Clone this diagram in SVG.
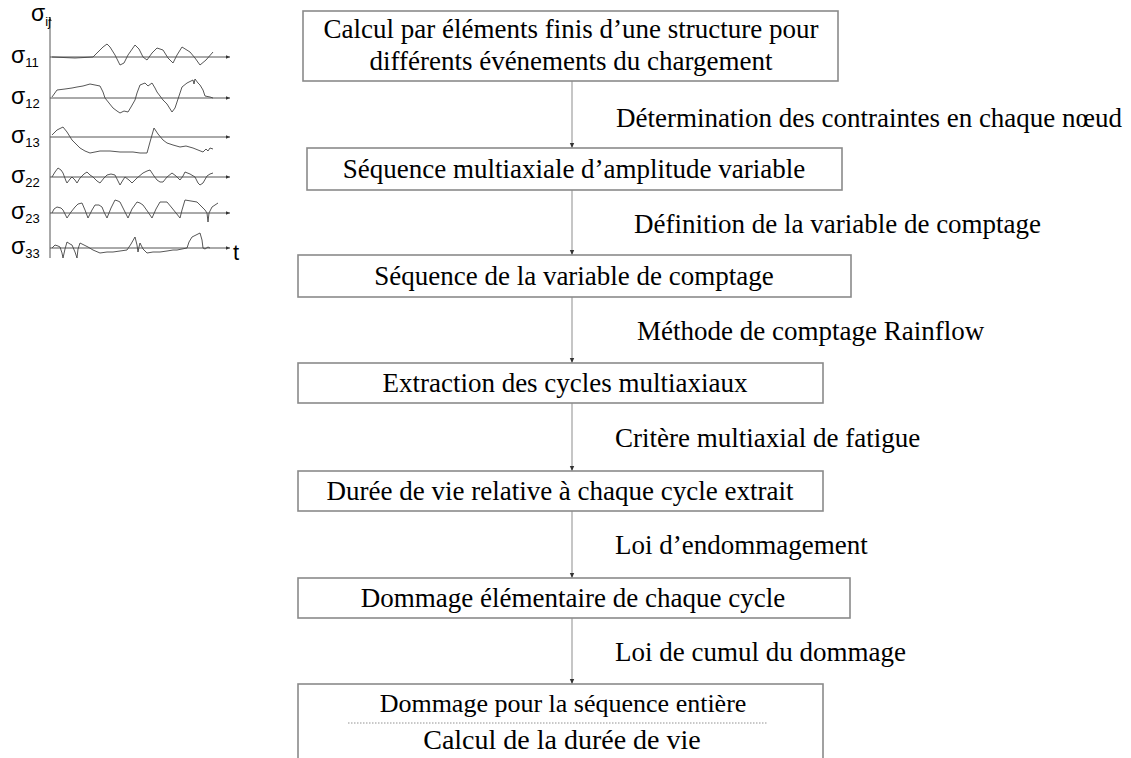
<svg xmlns="http://www.w3.org/2000/svg" width="1131" height="758" viewBox="0 0 1131 758">
<defs>
<style>
.box{fill:#fff;stroke:#8a8a8a;stroke-width:1.6}
.t{font-family:"Liberation Serif","Times New Roman",serif;font-size:27px;fill:#000;text-anchor:middle}
.lab{font-family:"Liberation Serif","Times New Roman",serif;font-size:27px;fill:#000}
.conn{stroke:#a0a0a0;stroke-width:1.2;fill:none}
.ax{stroke:#555;stroke-width:1;fill:none}
.w{stroke:#444;stroke-width:0.9;fill:none}
.s{font-family:"Liberation Sans",Arial,sans-serif;font-size:23px;fill:#000}
.sub{font-size:13px}
</style>
<marker id="ah" markerWidth="6" markerHeight="6" refX="5" refY="3" orient="auto" markerUnits="userSpaceOnUse">
<path d="M0,0.8 L5,3 L0,5.2 Z" fill="#333"/>
</marker>
<marker id="ah2" markerWidth="5" markerHeight="5" refX="4" refY="2.5" orient="auto" markerUnits="userSpaceOnUse">
<path d="M0,0.8 L4,2.5 L0,4.2 Z" fill="#333"/>
</marker>
</defs>
<rect width="1131" height="758" fill="#fff"/>

<g id="chart">
<line class="ax" x1="50" y1="258" x2="50" y2="17" marker-end="url(#ah2)"/>
<line class="ax" x1="50" y1="57" x2="230" y2="57" marker-end="url(#ah2)"/>
<line class="ax" x1="50" y1="98" x2="230" y2="98" marker-end="url(#ah2)"/>
<line class="ax" x1="50" y1="137" x2="230" y2="137" marker-end="url(#ah2)"/>
<line class="ax" x1="50" y1="177" x2="230" y2="177" marker-end="url(#ah2)"/>
<line class="ax" x1="50" y1="213" x2="230" y2="213" marker-end="url(#ah2)"/>
<line class="ax" x1="50" y1="248" x2="230" y2="248" marker-end="url(#ah2)"/>
<text class="s" x="31" y="21">σ<tspan class="sub" dy="5">ij</tspan></text>
<text class="s" x="11" y="63">σ<tspan class="sub" dy="4">11</tspan></text>
<text class="s" x="11" y="104">σ<tspan class="sub" dy="4">12</tspan></text>
<text class="s" x="11" y="143">σ<tspan class="sub" dy="4">13</tspan></text>
<text class="s" x="11" y="183">σ<tspan class="sub" dy="4">22</tspan></text>
<text class="s" x="11" y="219">σ<tspan class="sub" dy="4">23</tspan></text>
<text class="s" x="11" y="254">σ<tspan class="sub" dy="4">33</tspan></text>
<text class="s" x="233" y="260" style="font-size:22px">t</text>
<polyline class="w" points="52,57 75,58 93,57 97,53 103,47 107,44 110,47 115,55 120,65 124,63 128,55 135,45 139,49 143,57 147,60 152,53 157,48 163,50 168,58 173,63 177,55 182,47 190,52 195,58 200,65 206,60 213,52"/>
<polyline class="w" points="52,97 57,90 65,89 72,88 77,87 83,86 90,84 95,85 100,86 103,92 105,98 109,103 113,108 117,111 120,113 124,111 128,112 131,107 135,100 137,93 140,85 145,83 148,86 152,83 155,88 157,92 160,96 163,100 167,104 172,112 175,108 177,102 180,93 182,87 187,83 193,80 194,84 195,79 198,83 200,85 203,90 205,96 210,97 213,98"/>
<polyline class="w" points="52,135 57,130 63,127 67,132 72,140 80,148 85,151 90,153 100,151 110,151 120,152 133,152 140,153 147,153 150,142 154,128 158,134 163,140 167,143 173,145 180,147 186,146 193,148 198,150 203,152 206,149 208,151 210,148 213,149"/>
<polyline class="w" points="52,177 55,172 58,168 61,170 63,173 66,181 67,183 70,179 72,177 75,180 77,183 80,178 84,174 87,172 90,175 93,177 97,181 100,183 104,178 107,175 111,174 115,175 118,181 120,185 123,180 125,177 129,180 132,183 137,178 143,173 147,171 150,170 154,176 157,180 160,182 163,182 167,177 172,173 176,176 180,180 183,176 185,172 190,174 195,177 198,183 200,185 203,183 207,176 210,174 213,173"/>
<polyline class="w" points="52,213 54,209 57,207 61,208 63,210 65,214 67,218 71,212 75,207 78,204 82,203 85,210 88,218 92,210 95,205 99,205 102,207 104,212 107,218 111,208 115,200 118,201 120,202 124,210 128,218 132,209 137,202 140,203 143,205 148,212 152,218 156,209 160,202 164,202 167,202 172,208 176,213 180,218 182,210 185,200 191,201 197,202 201,206 205,210 207,213 208,222 209,213 212,207 218,203"/>
<polyline class="w" points="52,248 55,245 58,246 60,247 62,253 63,258 65,249 67,242 70,244 72,245 75,252 77,258 78,249 80,243 84,245 88,247 93,250 100,253 107,252 113,252 120,251 127,250 131,244 135,237 137,245 138,252 139,247 140,243 143,249 147,253 153,252 160,252 167,251 173,250 177,250 182,249 187,248 189,242 192,237 196,235 200,233 202,240 203,248 205,249 208,247 210,248"/>
</g>

<g id="connectors">
<line class="conn" x1="572" y1="81" x2="572" y2="148" marker-end="url(#ah)"/>
<line class="conn" x1="572" y1="190" x2="572" y2="255" marker-end="url(#ah)"/>
<line class="conn" x1="572" y1="297" x2="572" y2="363" marker-end="url(#ah)"/>
<line class="conn" x1="572" y1="403" x2="572" y2="471" marker-end="url(#ah)"/>
<line class="conn" x1="572" y1="511" x2="572" y2="578" marker-end="url(#ah)"/>
<line class="conn" x1="572" y1="618" x2="572" y2="684" marker-end="url(#ah)"/>
<text class="lab" x="616" y="127">Détermination des contraintes en chaque nœud</text>
<text class="lab" x="634" y="233">Définition de la variable de comptage</text>
<text class="lab" x="637" y="340">Méthode de comptage Rainflow</text>
<text class="lab" x="615" y="447">Critère multiaxial de fatigue</text>
<text class="lab" x="615" y="554">Loi d’endommagement</text>
<text class="lab" x="615" y="661">Loi de cumul du dommage</text>
</g>

<g id="n1">
<rect class="box" x="303" y="11" width="535" height="70"/>
<text class="t" x="571" y="38">Calcul par éléments finis d’une structure pour</text>
<text class="t" x="571" y="70">différents événements du chargement</text>
</g>
<g id="n2">
<rect class="box" x="307" y="148" width="535" height="42"/>
<text class="t" x="574" y="178">Séquence multiaxiale d’amplitude variable</text>
</g>
<g id="n3">
<rect class="box" x="298" y="255" width="553" height="42"/>
<text class="t" x="574" y="285">Séquence de la variable de comptage</text>
</g>
<g id="n4">
<rect class="box" x="298" y="363" width="525" height="40"/>
<text class="t" x="565" y="392">Extraction des cycles multiaxiaux</text>
</g>
<g id="n5">
<rect class="box" x="298" y="471" width="525" height="40"/>
<text class="t" x="560" y="500">Durée de vie relative à chaque cycle extrait</text>
</g>
<g id="n6">
<rect class="box" x="298" y="578" width="552" height="40"/>
<text class="t" x="573" y="607">Dommage élémentaire de chaque cycle</text>
</g>
<g id="n7">
<rect class="box" x="298" y="684" width="525" height="90"/>
<text class="t" x="563" y="712" style="font-size:26px">Dommage pour la séquence entière</text>
<line x1="348" y1="723" x2="767" y2="723" stroke="#777" stroke-width="0.8" stroke-dasharray="1.5,1.5"/>
<text class="t" x="562" y="749" style="font-size:28px">Calcul de la durée de vie</text>
</g>
</svg>
